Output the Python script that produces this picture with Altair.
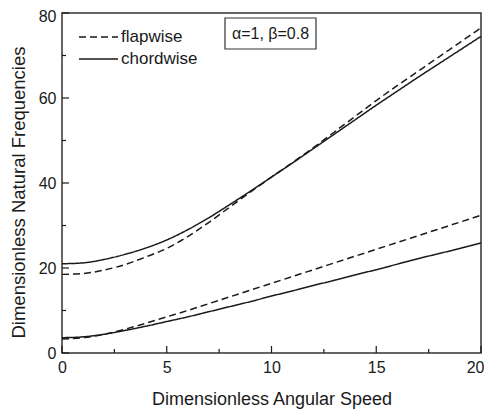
import altair as alt
import pandas as pd

speed = list(range(0, 21))
chord_low = [3.6, 3.8, 4.4, 5.3, 6.3, 7.4, 8.5, 9.7, 10.9, 12.1, 13.4, 14.6, 15.9, 17.1, 18.4, 19.6, 20.9, 22.2, 23.4, 24.6, 25.9]
flap_low = [3.3, 3.6, 4.4, 5.6, 7.0, 8.5, 10.0, 11.6, 13.2, 14.8, 16.4, 18.0, 19.6, 21.2, 22.8, 24.4, 26.0, 27.6, 29.2, 30.8, 32.4]
chord_high = [21.0, 21.2, 22.0, 23.2, 24.7, 26.6, 29.0, 31.8, 34.9, 38.1, 41.4, 44.7, 48.1, 51.5, 54.9, 58.3, 61.6, 64.9, 68.1, 71.3, 74.5]
flap_high = [18.5, 18.7, 19.5, 20.8, 22.6, 24.6, 27.4, 30.7, 34.3, 37.9, 41.4, 44.8, 48.3, 52.0, 55.7, 59.4, 62.9, 66.3, 69.7, 73.1, 76.5]
series_names = ["flapwise", "chordwise"]
x_major = [0, 5, 10, 15, 20]
x_minor = [2.5, 7.5, 12.5, 17.5]
y_major = [0, 20, 40, 60, 80]
y_minor = [10, 30, 50, 70]
annotation = "\u03b1=1, \u03b2=0.8"

rows = []
for mode, f, c in [("low", flap_low, chord_low), ("high", flap_high, chord_high)]:
    for s, v in zip(speed, f):
        rows.append(dict(speed=s, freq=v, kind="flapwise", mode=mode))
    for s, v in zip(speed, c):
        rows.append(dict(speed=s, freq=v, kind="chordwise", mode=mode))
df = pd.DataFrame(rows)

W, H = 419, 340
FONT = "Liberation Sans"
INK = "#1a1a1a"
xs = alt.Scale(domain=[0, 20], nice=False, zero=False)
ys = alt.Scale(domain=[0, 80], nice=False)

x_axis = alt.Axis(
    title="Dimensionless Angular Speed", values=x_major, format="d",
    ticks=False, domain=False, grid=False,
    labelFont=FONT, labelFontSize=16, labelColor=INK, labelPadding=6,
    labelAlign={"condition": {"test": "datum.value == 20", "value": "right"}, "value": "center"},
    labelOffset={"condition": {"test": "datum.value == 20", "value": 3}, "value": 0},
    titleFont=FONT, titleFontSize=18, titleFontWeight="normal", titleColor=INK, titlePadding=15)
y_axis = alt.Axis(
    title="Dimensionless Natural Frequencies", values=y_major, format="d",
    ticks=False, domain=False, grid=False,
    labelFont=FONT, labelFontSize=16, labelColor=INK, labelPadding=6,
    labelOffset={"condition": {"test": "datum.value == 80", "value": 3}, "value": 0},
    titleFont=FONT, titleFontSize=18.5, titleFontWeight="normal", titleColor=INK, titlePadding=10,
    titleY=179)

lines = alt.Chart(df).mark_line(strokeWidth=1.5, color=INK, interpolate="monotone").encode(
    x=alt.X("speed:Q", scale=xs, axis=x_axis),
    y=alt.Y("freq:Q", scale=ys, axis=y_axis),
    strokeDash=alt.StrokeDash("kind:N", scale=alt.Scale(domain=series_names, range=[[7, 4], [1, 0]]),
        legend=alt.Legend(title=None, orient="none", legendX=16, legendY=13, padding=0,
                          symbolType="stroke", symbolSize=1521, symbolStrokeWidth=1.5,
                          symbolStrokeColor=INK, labelFont=FONT, labelFontSize=17,
                          labelColor=INK, labelOffset=2, rowPadding=0, clipHeight=22)),
    detail="mode:N",
)

def xticks(vals, length):
    return alt.Chart(pd.DataFrame({"v": vals})).mark_rule(color=INK, strokeWidth=1.2).encode(
        x=alt.X("v:Q", scale=xs, axis=x_axis), y=alt.value(H), y2=alt.value(H - length))

def yticks(vals, length):
    return alt.Chart(pd.DataFrame({"v": vals})).mark_rule(color=INK, strokeWidth=1.2).encode(
        y=alt.Y("v:Q", scale=ys, axis=y_axis), x=alt.value(0), x2=alt.value(length))

ann_df = pd.DataFrame({"t": [annotation]})
box = alt.Chart(ann_df).mark_rect(fill="white", stroke="#333", strokeWidth=1.2).encode(
    x=alt.value(163), x2=alt.value(254), y=alt.value(5), y2=alt.value(36))
label = alt.Chart(ann_df).mark_text(font=FONT, fontSize=16, color=INK, baseline="middle", align="center").encode(
    x=alt.value(208.5), y=alt.value(20.5), text="t:N")

chart = alt.layer(
    lines, xticks(x_major, 7), xticks(x_minor, 4), yticks(y_major, 7), yticks(y_minor, 4),
    box, label
).properties(
    width=W, height=H, background="white",
    autosize=alt.AutoSizeParams(type="none"),
    padding={"left": 54, "top": 5, "right": 3, "bottom": 57},
).configure_view(stroke="#333", strokeWidth=1.5)

chart.save("out.html", embed_options={"renderer": "svg", "actions": False})
